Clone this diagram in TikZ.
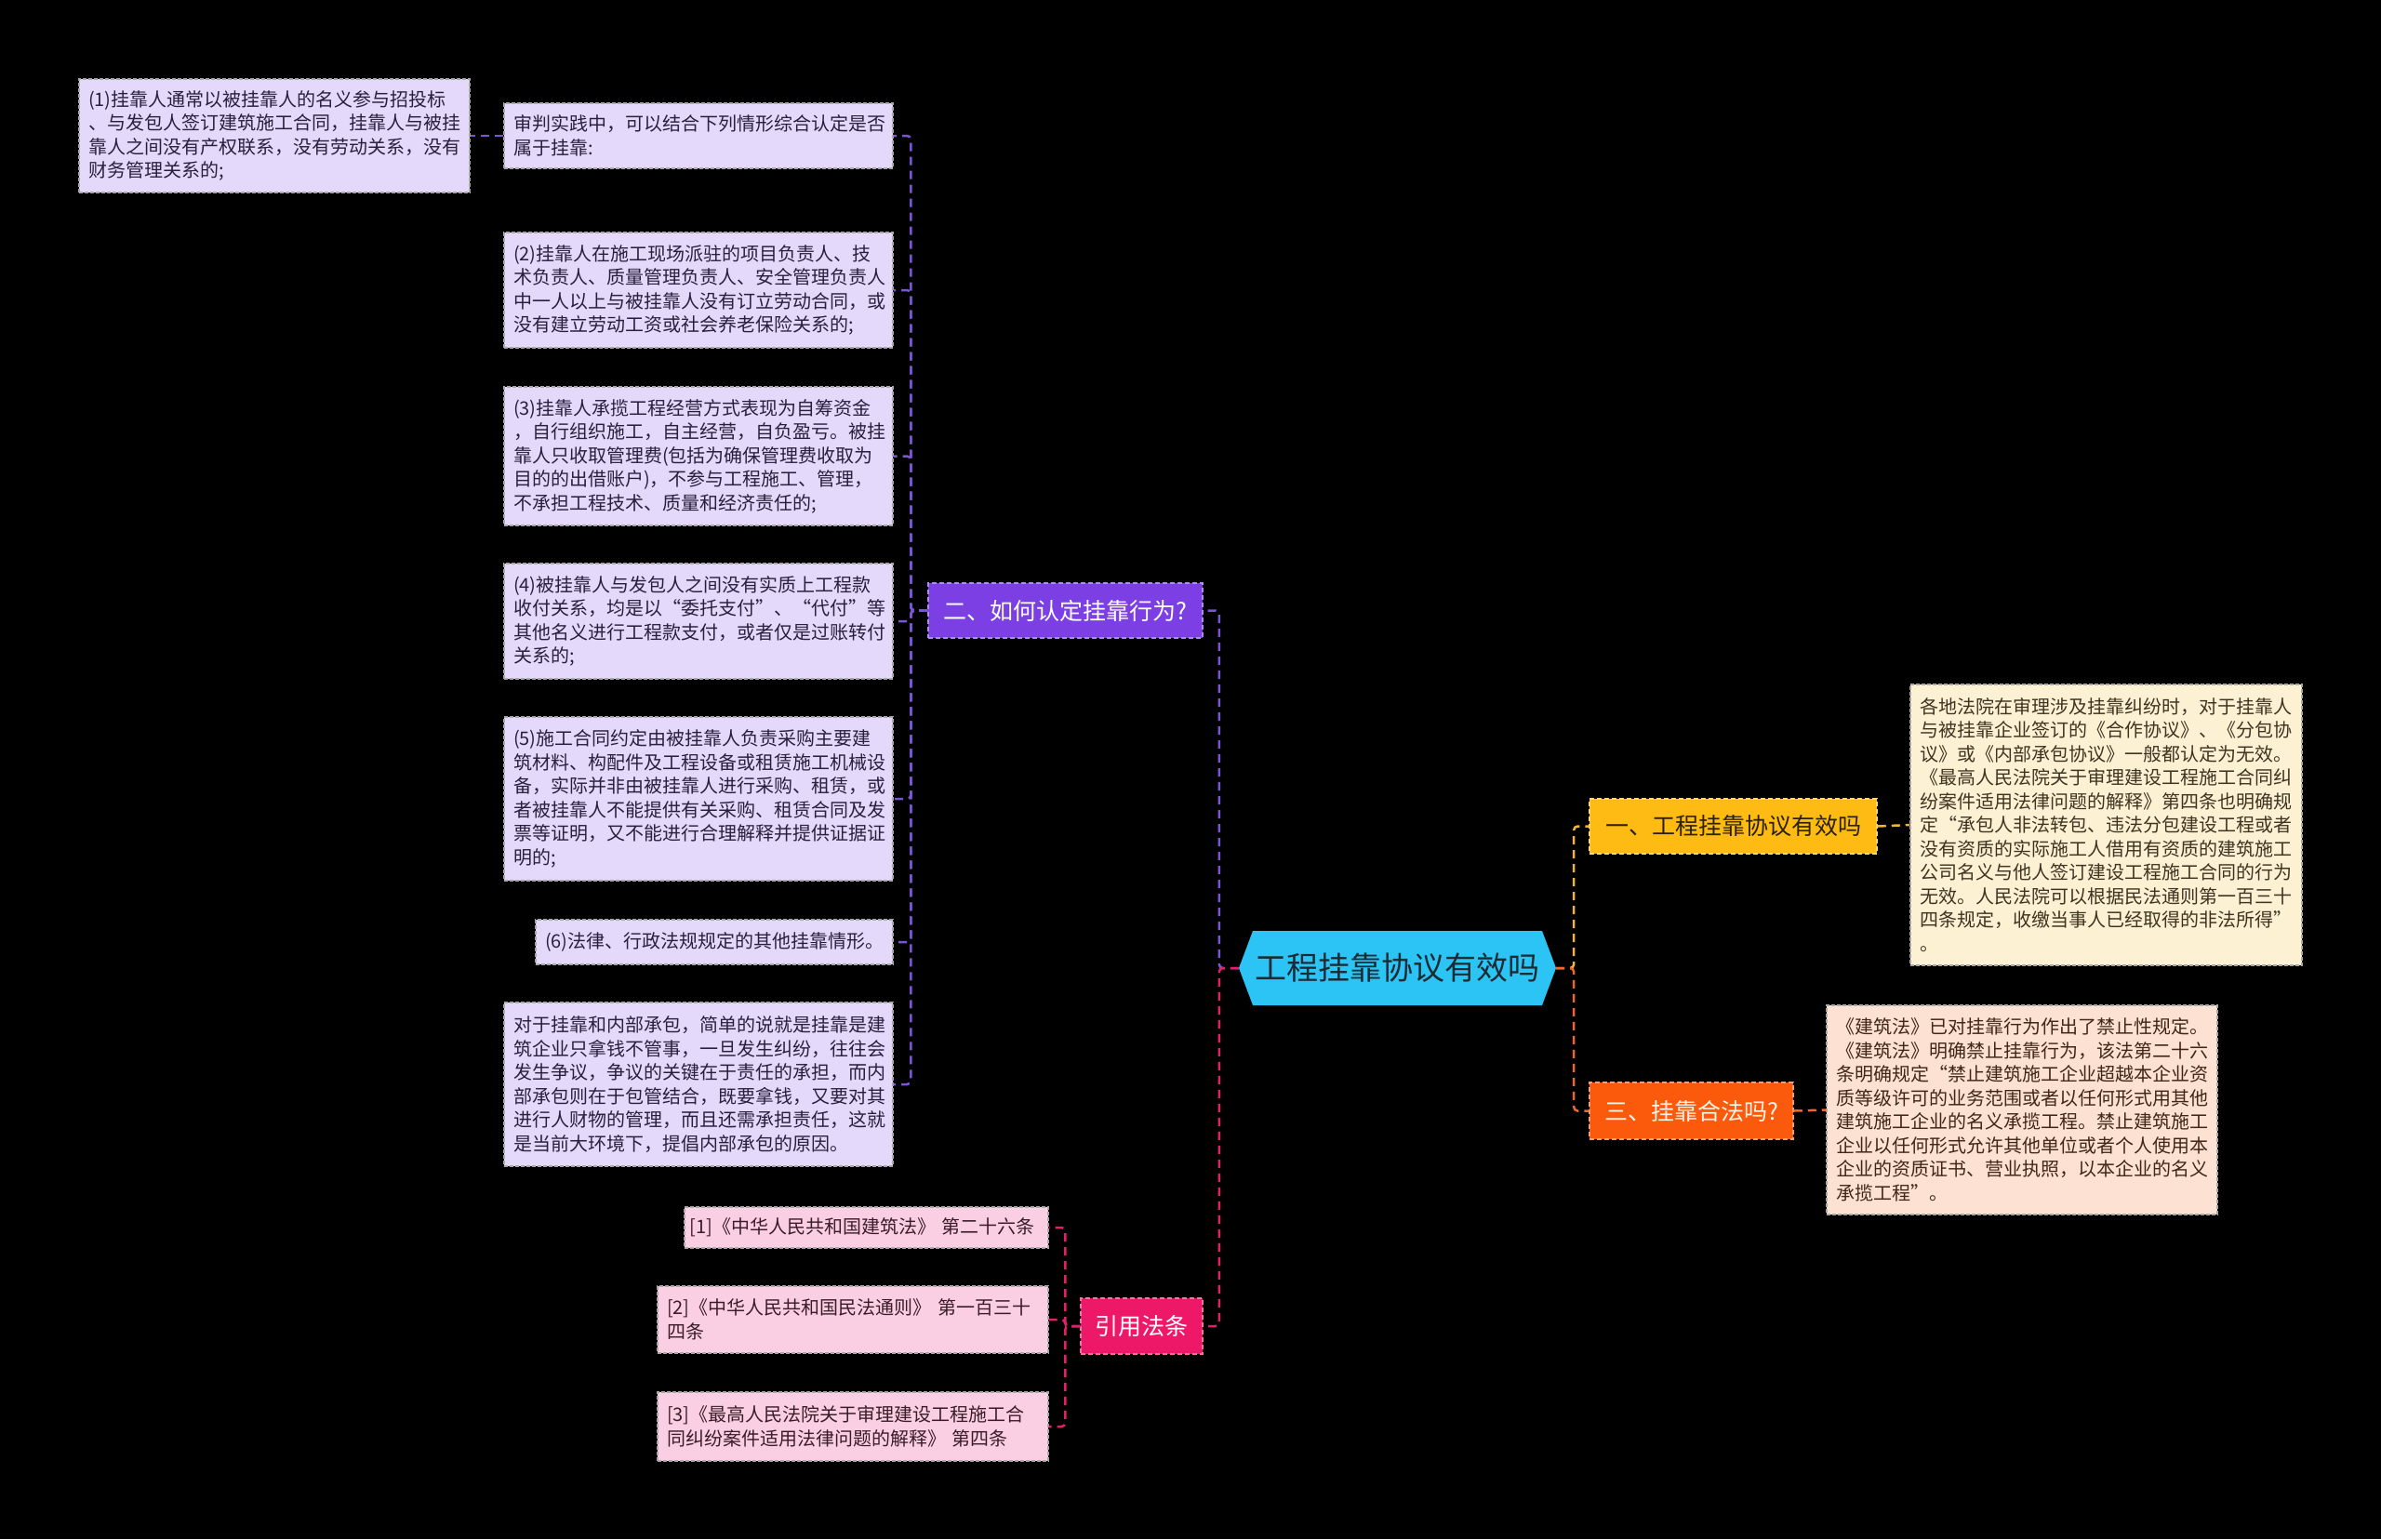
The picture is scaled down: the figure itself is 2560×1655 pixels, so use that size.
\documentclass[tikz,border=0pt]{standalone}
\usepackage{fontspec}
\setmainfont{Noto Sans CJK SC}
\usetikzlibrary{calc}
\definecolor{rootfill}{HTML}{2BC4F4}
\definecolor{roottext}{HTML}{1C2B33}
\definecolor{pfill}{HTML}{7B3FE4}
\definecolor{pleaffill}{HTML}{E4D9FA}
\definecolor{pleaftext}{HTML}{2A1F3D}
\definecolor{pline}{HTML}{7A55D6}
\definecolor{yfill}{HTML}{FDBB14}
\definecolor{ytext}{HTML}{2B2100}
\definecolor{yleaffill}{HTML}{FDF1D3}
\definecolor{yleaftext}{HTML}{3D3522}
\definecolor{yline}{HTML}{F2B52E}
\definecolor{ofill}{HTML}{FB5A0C}
\definecolor{otext}{HTML}{FFF3E6}
\definecolor{oleaffill}{HTML}{FDE1D3}
\definecolor{oleaftext}{HTML}{402718}
\definecolor{oline}{HTML}{F0662A}
\definecolor{kfill}{HTML}{EE1869}
\definecolor{kleaffill}{HTML}{FBCFE3}
\definecolor{kleaftext}{HTML}{3A1C2A}
\definecolor{kline}{HTML}{E21F67}
\definecolor{leafborder}{HTML}{A8A8A8}
\begin{document}
\begin{tikzpicture}[x=1pt,y=-1pt,
  leaf/.style={rectangle, draw=leafborder, line width=1.3pt, dash pattern=on 4pt off 2pt,
    align=left, inner xsep=10pt, inner ysep=0pt, anchor=center,
    font=\fontsize{20}{25.5}\selectfont},
  pleaf/.style={leaf, fill=pleaffill, text=pleaftext},
  yleaf/.style={leaf, fill=yleaffill, text=yleaftext},
  oleaf/.style={leaf, fill=oleaffill, text=oleaftext},
  kleaf/.style={leaf, fill=kleaffill, text=kleaftext},
  bnode/.style={rectangle, line width=1.5pt, dash pattern=on 5pt off 3pt, align=center,
    inner sep=0pt, anchor=center, font=\fontsize{25}{30}\selectfont},
  rootn/.style={rectangle, inner sep=0pt, anchor=center, text=roottext,
    font=\fontsize{34}{40}\selectfont,
    path picture={\fill[rootfill]
      ($(path picture bounding box.north west)+(15,0)$) --
      ($(path picture bounding box.north east)+(-15,0)$) --
      ($(path picture bounding box.north east)!0.5!(path picture bounding box.south east)$) --
      ($(path picture bounding box.south east)+(-15,0)$) --
      ($(path picture bounding box.south west)+(15,0)$) --
      ($(path picture bounding box.north west)!0.5!(path picture bounding box.south west)$) -- cycle;}},
  conn/.style={line width=2.5pt, dash pattern=on 9pt off 6pt, rounded corners=4pt}
]
\fill[black] (0,0) rectangle (2560,1655);
\useasboundingbox (0,0) rectangle (2560,1655);

% root
\node[rootn, minimum width=341, minimum height=80] (root) at (1502.5,1041) {工程挂靠协议有效吗};

% branch nodes
\node[bnode, fill=pfill, draw=pfill!60!white, text=white, minimum width=295, minimum height=59] (b2) at (1145.5,656.5) {二、如何认定挂靠行为?};
\node[bnode, fill=yfill, draw=yfill!60!white, text=ytext, minimum width=309, minimum height=59] (b1) at (1863.5,888.5) {一、工程挂靠协议有效吗};
\node[bnode, fill=ofill, draw=ofill!60!white, text=otext, minimum width=219, minimum height=61] (b3) at (1818.5,1194.5) {三、挂靠合法吗?};
\node[bnode, fill=kfill, draw=kfill!60!white, text=white, minimum width=131, minimum height=60] (bk) at (1227.5,1426) {引用法条};

% purple leaves
\node[pleaf, text width=400, minimum height=122] (c1) at (295,146) {(1)挂靠人通常以被挂靠人的名义参与招投标\\、与发包人签订建筑施工合同，挂靠人与被挂\\靠人之间没有产权联系，没有劳动关系，没有\\财务管理关系的;};
\node[pleaf, text width=398, minimum height=70] (c0) at (751,146) {审判实践中，可以结合下列情形综合认定是否\\属于挂靠:};
\node[pleaf, text width=398, minimum height=124] (c2) at (751,312) {(2)挂靠人在施工现场派驻的项目负责人、技\\术负责人、质量管理负责人、安全管理负责人\\中一人以上与被挂靠人没有订立劳动合同，或\\没有建立劳动工资或社会养老保险关系的;};
\node[pleaf, text width=398, minimum height=149] (c3) at (751,490.5) {(3)挂靠人承揽工程经营方式表现为自筹资金\\，自行组织施工，自主经营，自负盈亏。被挂\\靠人只收取管理费(包括为确保管理费收取为\\目的的出借账户)，不参与工程施工、管理，\\不承担工程技术、质量和经济责任的;};
\node[pleaf, text width=398, minimum height=124] (c4) at (751,668) {(4)被挂靠人与发包人之间没有实质上工程款\\收付关系，均是以“委托支付”、“代付”等\\其他名义进行工程款支付，或者仅是过账转付\\关系的;};
\node[pleaf, text width=398, minimum height=176] (c5) at (751,859) {(5)施工合同约定由被挂靠人负责采购主要建\\筑材料、构配件及工程设备或租赁施工机械设\\备，实际并非由被挂靠人进行采购、租赁，或\\者被挂靠人不能提供有关采购、租赁合同及发\\票等证明，又不能进行合理解释并提供证据证\\明的;};
\node[pleaf, text width=364, minimum height=48] (c6) at (768,1013) {(6)法律、行政法规规定的其他挂靠情形。};
\node[pleaf, text width=398, minimum height=176] (c7) at (751,1166) {对于挂靠和内部承包，简单的说就是挂靠是建\\筑企业只拿钱不管事，一旦发生纠纷，往往会\\发生争议，争议的关键在于责任的承担，而内\\部承包则在于包管结合，既要拿钱，又要对其\\进行人财物的管理，而且还需承担责任，这就\\是当前大环境下，提倡内部承包的原因。};

% yellow leaf
\node[yleaf, text width=401, minimum height=302] (y1) at (2264.5,887) {各地法院在审理涉及挂靠纠纷时，对于挂靠人\\与被挂靠企业签订的《合作协议》、《分包协\\议》或《内部承包协议》一般都认定为无效。\\《最高人民法院关于审理建设工程施工合同纠\\纷案件适用法律问题的解释》第四条也明确规\\定“承包人非法转包、违法分包建设工程或者\\没有资质的实际施工人借用有资质的建筑施工\\公司名义与他人签订建设工程施工合同的行为\\无效。人民法院可以根据民法通则第一百三十\\四条规定，收缴当事人已经取得的非法所得”\\。};

% orange leaf
\node[oleaf, text width=400, minimum height=225] (o1) at (2174,1193.5) {《建筑法》已对挂靠行为作出了禁止性规定。\\《建筑法》明确禁止挂靠行为，该法第二十六\\条明确规定“禁止建筑施工企业超越本企业资\\质等级许可的业务范围或者以任何形式用其他\\建筑施工企业的名义承揽工程。禁止建筑施工\\企业以任何形式允许其他单位或者个人使用本\\企业的资质证书、营业执照，以本企业的名义\\承揽工程”。};

% pink leaves
\node[kleaf, text width=380, inner xsep=5.5pt, minimum height=44] (k1) at (931.5,1320) {\mbox{[1]《中华人民共和国建筑法》 第二十六条}};
\node[kleaf, text width=400, minimum height=72] (k2) at (917,1419) {[2]《中华人民共和国民法通则》 第一百三十\\四条};
\node[kleaf, text width=400, minimum height=74] (k3) at (917,1534) {[3]《最高人民法院关于审理建设工程施工合\\同纠纷案件适用法律问题的解释》 第四条};

% connectors root
\draw[conn, draw=pline] (root.west) -- ++(-21,0) |- (b2.east);
\draw[conn, draw=kline] (root.west) -- ++(-21,0) |- (bk.east);
\draw[conn, draw=yline] (root.east) -- ++(19,0) |- (b1.west);
\draw[conn, draw=oline] (root.east) -- ++(19,0) |- (b3.west);

% purple group
\foreach \c in {c0,c2,c3,c4,c5,c6,c7}
  \draw[conn, draw=pline] (b2.west) -- ++(-18,0) |- (\c.east);
\draw[conn, draw=pline] (c0.west) -- (c1.east);

% yellow / orange
\draw[conn, draw=yline] (b1.east) -- (y1.west);
\draw[conn, draw=oline] (b3.east) -- (o1.west);

% pink group
\foreach \c in {k1,k2,k3}
  \draw[conn, draw=kline] (bk.west) -- ++(-16,0) |- (\c.east);
\end{tikzpicture}
\end{document}
